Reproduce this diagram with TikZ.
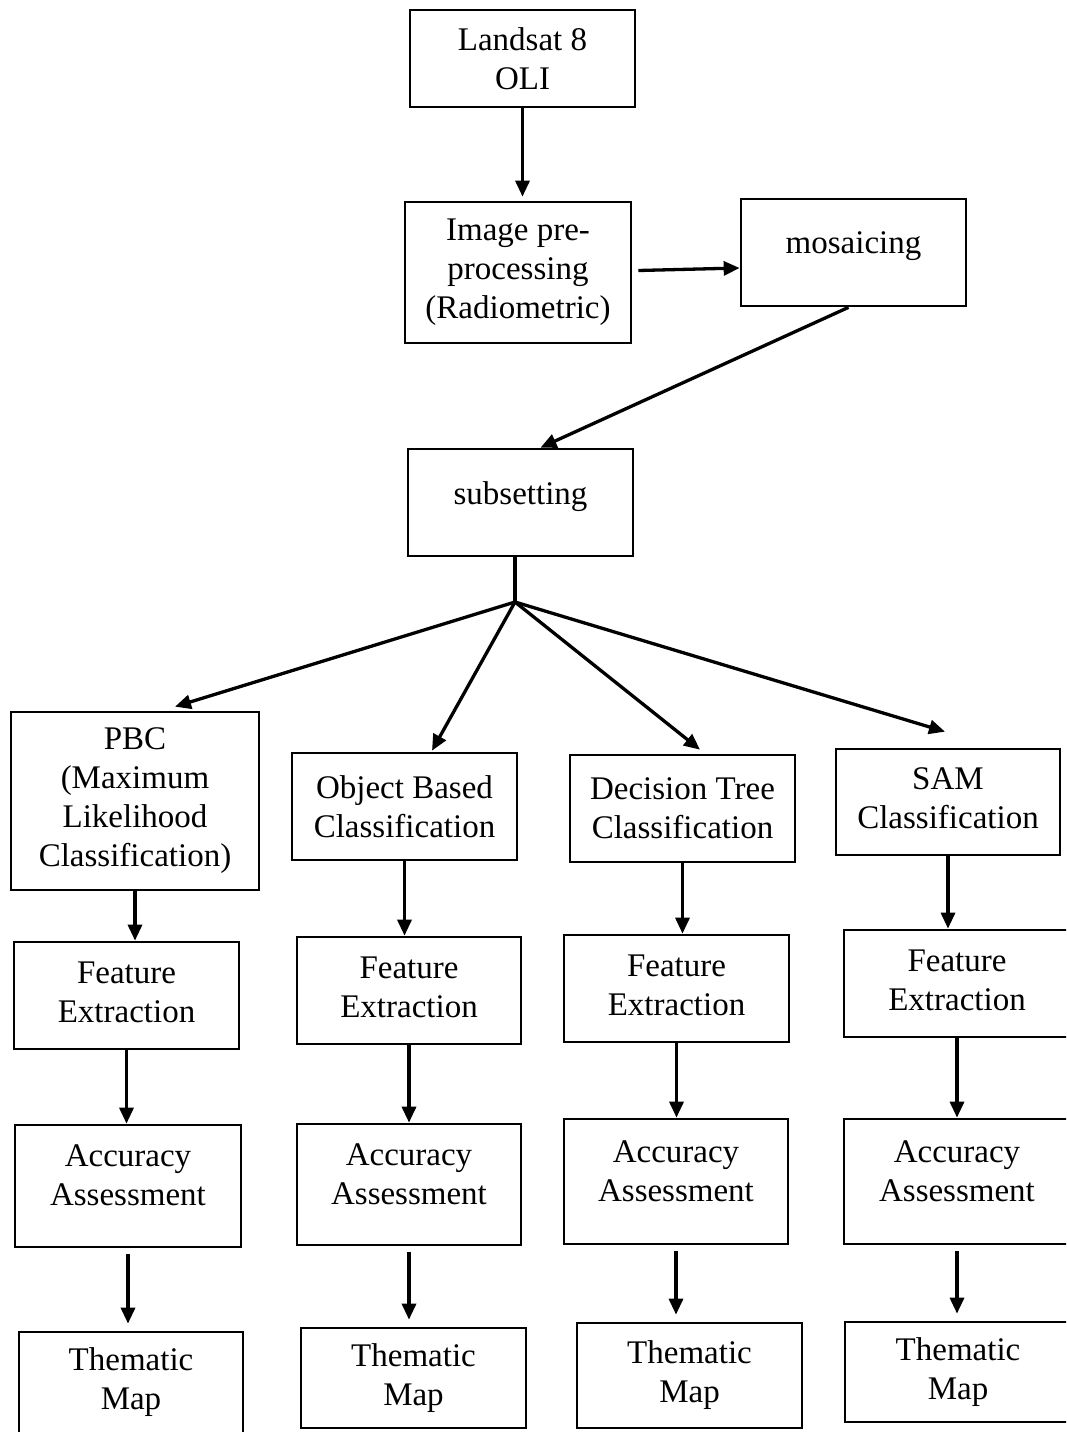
\documentclass[tikz,border=0pt]{standalone}
\usepackage{fontspec}
\setmainfont{Liberation Serif}
\usetikzlibrary{arrows.meta,calc}
\newcommand{\lifttxt}[1]{\rule[-#1]{0pt}{0pt}}
\begin{document}
\begin{tikzpicture}[x=1pt, y=-1pt,
  box/.style={draw, line width=2.7pt, align=center, inner sep=0pt,
    font=\fontsize{33pt}{39pt}\selectfont},
  arr/.style={line width=3.3pt, -{Triangle[length=16pt,width=14pt]}}]
\useasboundingbox (0,0) rectangle (1066,1432);
\clip (0,0) rectangle (1066,1432);
% top chain
\node[box, minimum width=225, minimum height=97] (land) at (522.5,58.5) {Landsat 8\\OLI};
\node[box, minimum width=226, minimum height=141] (pre) at (518,272.5) {Image pre-\\processing\\(Radiometric)};
\node[box, minimum width=225, minimum height=107] (mos) at (853.5,252.5) {mosaicing\lifttxt{19pt}};
\node[box, minimum width=225, minimum height=107] (sub) at (520.5,502.5) {subsetting\lifttxt{19pt}};
\coordinate (br) at (515,602);
% classifiers
\node[box, minimum width=248, minimum height=178] (pbc) at (135,801) {PBC\\(Maximum\\Likelihood\\Classification)};
\node[box, minimum width=225, minimum height=107] (obc) at (404.5,806.5) {Object Based\\Classification};
\node[box, minimum width=225, minimum height=107] (dtc) at (682.5,808.5) {Decision Tree\\Classification};
\node[box, minimum width=224, minimum height=106] (sam) at (948,802) {SAM\\Classification\lifttxt{8pt}};
% feature extraction
\node[box, minimum width=225, minimum height=107] (fe1) at (126.5,995.5) {Feature\\Extraction\lifttxt{7pt}};
\node[box, minimum width=224, minimum height=107] (fe2) at (409,990.5) {Feature\\Extraction\lifttxt{7pt}};
\node[box, minimum width=225, minimum height=107] (fe3) at (676.5,988.5) {Feature\\Extraction\lifttxt{7pt}};
\node[box, minimum width=226, minimum height=107] (fe4) at (957,983.5) {Feature\\Extraction\lifttxt{7pt}};
% accuracy
\node[box, minimum width=226, minimum height=122] (acc1) at (128,1186) {Accuracy\\Assessment\lifttxt{22pt}};
\node[box, minimum width=224, minimum height=121] (acc2) at (409,1184.5) {Accuracy\\Assessment\lifttxt{20pt}};
\node[box, minimum width=224, minimum height=125] (acc3) at (676,1181.5) {Accuracy\\Assessment\lifttxt{20pt}};
\node[box, minimum width=226, minimum height=125] (acc4) at (957,1181.5) {Accuracy\\Assessment\lifttxt{20pt}};
% maps
\node[box, minimum width=224, minimum height=101] (tm1) at (131,1382.5) {Thematic\\Map};
\node[box, minimum width=225, minimum height=100] (tm2) at (413.5,1378) {Thematic\\Map};
\node[box, minimum width=225, minimum height=105] (tm3) at (689.5,1375.5) {Thematic\\Map};
\node[box, minimum width=226, minimum height=100] (tm4) at (958,1372) {Thematic\\Map};
% connectors
\draw[arr, shorten >=4pt] (land.south) -- (land.south |- pre.north);
\draw[arr] ($(pre.east)+(6,-2)$) -- ($(mos.west)+(0,15.5)$);
\draw[arr] ($(mos.south)+(-5,0)$) -- ($(sub.north)+(20,0)$);
\draw[line width=3.3pt] (sub.south -| br) -- (br);
\draw[arr] (br) -- ($(pbc.north)+(40,-4)$);
\draw[arr] (br) -- ($(obc.north)+(27.5,-1)$);
\draw[arr] (br) -- ($(dtc.north)+(17.5,-4)$);
\draw[arr] (br) -- ($(sam.north)+(-3,-16)$);
\foreach \a/\c in {pbc/1,obc/2,dtc/3,sam/4}
  \draw[arr] (\a.south) -- (\a.south |- fe\c.north);
\foreach \c in {1,...,4}{
  \draw[arr] (fe\c.south) -- (fe\c.south |- acc\c.north);
  \draw[arr, shorten <=6pt, shorten >=7pt] (acc\c.south) -- (acc\c.south |- tm\c.north);
}
\end{tikzpicture}
\end{document}
